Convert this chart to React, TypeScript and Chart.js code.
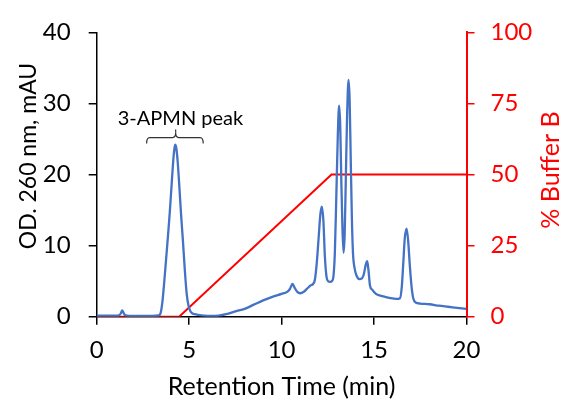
import React, { useEffect, useRef } from "react";
import { Chart, registerables } from "chart.js";

Chart.register(...registerables);

// Retention time (min) and OD 260 (mAU)
const timeMin = [
  0, 0.6, 1.0, 1.2, 1.3, 1.38, 1.46, 1.55, 1.8, 2.4, 3.0, 3.35, 3.45, 3.55, 3.65, 3.75, 3.85,
  3.95, 4.05, 4.13, 4.19, 4.24, 4.3, 4.38, 4.47, 4.56, 4.66, 4.76, 4.86, 4.96, 5.06, 5.15, 5.3,
  5.5, 5.8, 6.2, 6.6, 7.0, 7.5, 8.0, 8.5, 9.0, 9.5, 10.0, 10.3, 10.45, 10.59, 10.72, 10.85, 11.0,
  11.2, 11.4, 11.57, 11.7, 11.8, 11.9, 12.0, 12.1, 12.18, 12.26, 12.34, 12.43, 12.52, 12.62,
  12.72, 12.8, 12.88, 12.96, 13.04, 13.11, 13.17, 13.23, 13.29, 13.35, 13.41, 13.47, 13.54,
  13.62, 13.68, 13.74, 13.8, 13.86, 13.95, 14.05, 14.2, 14.35, 14.45, 14.55, 14.63, 14.7, 14.78,
  14.9, 15.1, 15.3, 15.6, 15.9, 16.2, 16.4, 16.5, 16.58, 16.66, 16.76, 16.85, 16.94, 17.03,
  17.12, 17.25, 17.5, 18.0, 18.5, 19.0, 19.5, 20.0,
];
const od260 = [
  0.15, 0.15, 0.15, 0.2, 0.45, 0.9, 0.5, 0.2, 0.12, 0.1, 0.12, 0.2, 0.45, 2.0, 4.8, 8.0, 11.2,
  14.6, 18.5, 21.6, 23.4, 24.2, 23.8, 21.8, 18.3, 14.5, 10.8, 6.8, 3.4, 1.6, 0.8, 0.5, 0.35,
  0.25, 0.15, 0.1, 0.15, 0.35, 0.75, 1.1, 1.7, 2.3, 2.8, 3.2, 3.5, 3.9, 4.6, 4.0, 3.5, 3.3, 3.5,
  4.0, 4.4, 4.6, 5.2, 7.5, 11.0, 14.5, 15.5, 13.5, 8.5, 5.6, 5.0, 4.9, 5.0, 5.6, 9.0, 17.0, 25.5,
  29.7, 27.0, 19.0, 12.5, 9.0, 11.5, 19.0, 28.0, 33.3, 30.5, 22.0, 14.0, 9.0, 6.8, 5.8, 5.3, 5.4,
  6.0, 7.3, 7.8, 6.5, 4.4, 3.8, 3.2, 3.0, 2.8, 2.6, 2.5, 2.6, 4.2, 7.5, 11.0, 12.4, 10.5, 7.0,
  4.2, 2.6, 2.0, 1.85, 1.75, 1.55, 1.4, 1.25, 1.1,
];

// Buffer B gradient program
const gradientTime = [0, 4.46, 12.7, 20];
const bufferB = [0, 0, 50, 50];

// Axis ticks
const xTicks = [0, 5, 10, 15, 20];
const odTicks = [0, 10, 20, 30, 40];
const bufferTicks = [0, 25, 50, 75, 100];

// Text
const xTitle = "Retention Time (min)";
const yTitle = "OD. 260 nm, mAU";
const y2Title = "% Buffer B";
const peakLabel = "3-APMN peak";

// Annotation anchor (data units)
const braceFrom = 2.7;
const braceTo = 5.76;
const braceCenter = 4.27;
const braceY = 25.2;
const labelX = 4.53;
const labelY = 27.0;

const FONT = "Lato";
const BLUE = "#4472C4";
const RED = "#FF0000";

export default function App() {
  const ref = useRef<HTMLCanvasElement | null>(null);

  useEffect(() => {
    if (!ref.current) return;
    const overlay = {
      id: "overlay",
      afterDraw(chart: any) {
        const { ctx, chartArea, scales } = chart;
        const xs = scales.x;
        const ys = scales.y;
        ctx.save();
        ctx.fillStyle = "#000";
        ctx.font = `25px ${FONT}`;
        ctx.textAlign = "center";
        ctx.textBaseline = "alphabetic";
        ctx.fillText(xTitle, (chartArea.left + chartArea.right) / 2, 395);

        ctx.save();
        ctx.font = `23px ${FONT}`;
        ctx.translate(36, 156);
        ctx.rotate(-Math.PI / 2);
        ctx.fillText(yTitle, 0, 0);
        ctx.restore();

        ctx.save();
        ctx.fillStyle = RED;
        ctx.translate(559, 170);
        ctx.rotate(-Math.PI / 2);
        ctx.fillText(y2Title, 0, 0);
        ctx.restore();

        ctx.font = `20px ${FONT}`;
        ctx.fillStyle = "#000";
        ctx.fillText(peakLabel, xs.getPixelForValue(labelX), ys.getPixelForValue(labelY));

        const x1 = xs.getPixelForValue(braceFrom);
        const x2 = xs.getPixelForValue(braceTo);
        const xc = xs.getPixelForValue(braceCenter);
        const y = ys.getPixelForValue(braceY);
        const r = 3;
        ctx.strokeStyle = "#333";
        ctx.lineWidth = 1.2;
        ctx.beginPath();
        ctx.moveTo(x1, y + 6);
        ctx.quadraticCurveTo(x1, y, x1 + r, y);
        ctx.lineTo(xc - r, y);
        ctx.quadraticCurveTo(xc, y, xc, y - r - 2);
        ctx.quadraticCurveTo(xc, y, xc + r, y);
        ctx.lineTo(x2 - r, y);
        ctx.quadraticCurveTo(x2, y, x2, y + 6);
        ctx.stroke();
        ctx.beginPath();
        ctx.moveTo(xc, y - r - 2);
        ctx.lineTo(xc, y - 8);
        ctx.stroke();
        ctx.restore();
      },
    };

    const chart = new Chart(ref.current, {
      type: "line",
      data: {
        datasets: [
          {
            label: "OD 260",
            data: timeMin.map((t, i) => ({ x: t, y: od260[i] })),
            borderColor: BLUE,
            borderWidth: 2.3,
            pointRadius: 0,
            cubicInterpolationMode: "monotone",
            yAxisID: "y",
            order: 0,
          },
          {
            label: "% Buffer B",
            data: gradientTime.map((t, i) => ({ x: t, y: bufferB[i] })),
            borderColor: RED,
            borderWidth: 2,
            pointRadius: 0,
            tension: 0,
            yAxisID: "y2",
            order: 1,
          },
        ],
      },
      options: {
        responsive: false,
        animation: false,
        events: [],
        layout: { padding: { top: 20.7, left: 0, right: 0, bottom: 0 } },
        plugins: { legend: { display: false }, tooltip: { enabled: false } },
        scales: {
          x: {
            type: "linear",
            min: 0,
            max: 20,
            afterBuildTicks: (s: any) => {
              s.ticks = xTicks.map((v) => ({ value: v }));
            },
            afterFit: (s: any) => {
              s.height = 404 - 316.7;
            },
            grid: { display: true, drawOnChartArea: false, tickLength: 8, color: "#000", lineWidth: 1.5 },
            border: { display: true, color: "#000", width: 1.5 },
            ticks: { color: "#000", padding: 11, font: { family: FONT, size: 24 }, maxRotation: 0 },
          },
          y: {
            type: "linear",
            position: "left",
            min: 0,
            max: 40,
            afterBuildTicks: (s: any) => {
              s.ticks = odTicks.map((v) => ({ value: v }));
            },
            afterFit: (s: any) => {
              s.width = 96.7;
            },
            grid: { display: true, drawOnChartArea: false, tickLength: 8, color: "#000", lineWidth: 1.5 },
            border: { display: true, color: "#000", width: 1.5 },
            ticks: { color: "#000", padding: 18, font: { family: FONT, size: 24 } },
          },
          y2: {
            type: "linear",
            position: "right",
            min: 0,
            max: 100,
            afterBuildTicks: (s: any) => {
              s.ticks = bufferTicks.map((v) => ({ value: v }));
            },
            afterFit: (s: any) => {
              s.width = 563 - 466.5;
            },
            grid: { display: true, drawOnChartArea: false, tickLength: 8, color: RED, lineWidth: 1.5 },
            border: { display: true, color: RED, width: 2 },
            ticks: { color: RED, padding: 16, font: { family: FONT, size: 24 } },
          },
        },
      },
      plugins: [overlay],
    } as any);
    return () => chart.destroy();
  }, []);

  return (
    <div style={{ position: "fixed", left: 0, top: 0, width: 563, height: 404, background: "#fff" }}>
      <canvas ref={ref} width={563} height={404} style={{ display: "block", width: 563, height: 404 }} />
    </div>
  );
}
